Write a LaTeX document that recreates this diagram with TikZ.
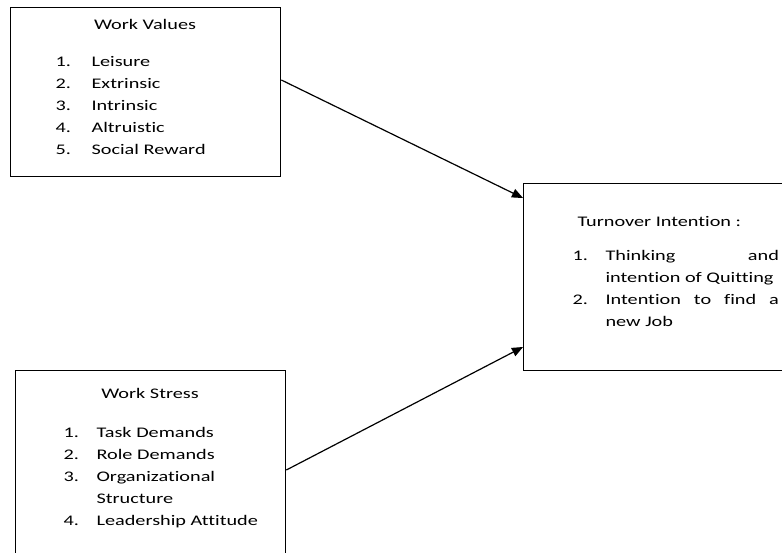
\documentclass[tikz,border=0pt]{standalone}
\usepackage{fontspec}
\setmainfont{Carlito}[FakeStretch=1.38, Ligatures=NoCommon]
\usepackage{array}
\usetikzlibrary{arrows, positioning}

\tikzset{
	box/.style={draw, line width=1pt, anchor=north west, inner sep=0pt},
	txt/.style={font=\fontsize{11}{16.5}\selectfont, inner sep=0pt},
}

\begin{document}
\begin{tikzpicture}[->,>=triangle 45,x=0.75pt,y=-0.75pt,line width=0.9pt]
			\fill[white] (0,0) rectangle (782,553);
			\useasboundingbox (0,0) rectangle (782,553);
			\clip (0,0) rectangle (782,553);
			% the three boxes (units are pixels)
			\node[box, minimum width=202.5pt, minimum height=126.75pt] (values)   at (10,7)   {};
			\node[box, minimum width=202.5pt, minimum height=180pt]    (stress)   at (15,370)  {};
			\node[box, minimum width=210pt,   minimum height=140.25pt] (turnover) at (523,183) {};
			% titles
			\node[txt, anchor=base]      (valuesTitle)   at (145,29.3) {Work Values};
			\node[txt, anchor=base]      (stressTitle)   at (150,398)  {Work Stress};
			\node[txt, anchor=base west] (turnoverTitle) at (577,226)  {Turnover Intention :};
			% item lists
			\node[txt, anchor=base west] (valuesList) at (55,66.7) {%
				\begin{tabular}[t]{@{}p{27pt}@{}l@{}}
					1. & Leisure\\
					2. & Extrinsic\\
					3. & Intrinsic\\
					4. & Altruistic\\
					5. & Social Reward
				\end{tabular}};
			\node[txt, anchor=base west] (stressList) at (63,437) {%
				\begin{tabular}[t]{@{}p{24.75pt}@{}l@{}}
					1. & Task Demands\\
					2. & Role Demands\\
					3. & Organizational\\
					   & Structure\\
					4. & Leadership Attitude
				\end{tabular}};
			\node[txt, anchor=base west] (turnoverList) at (572,260) {%
				\begin{tabular}[t]{@{}p{24.75pt}@{}p{130pt}@{}}
					1. & Thinking \hfill and\\
					   & intention of Quitting\\
					2. & Intention \hfill to \hfill find \hfill a\\
					   & new Job
				\end{tabular}};
			% influences
			\draw (values.east |- 0,80)  -- (turnover.west |- 0,198);
			\draw (stress.east |- 0,470) -- (turnover.west |- 0,347);
		\end{tikzpicture}
\end{document}
